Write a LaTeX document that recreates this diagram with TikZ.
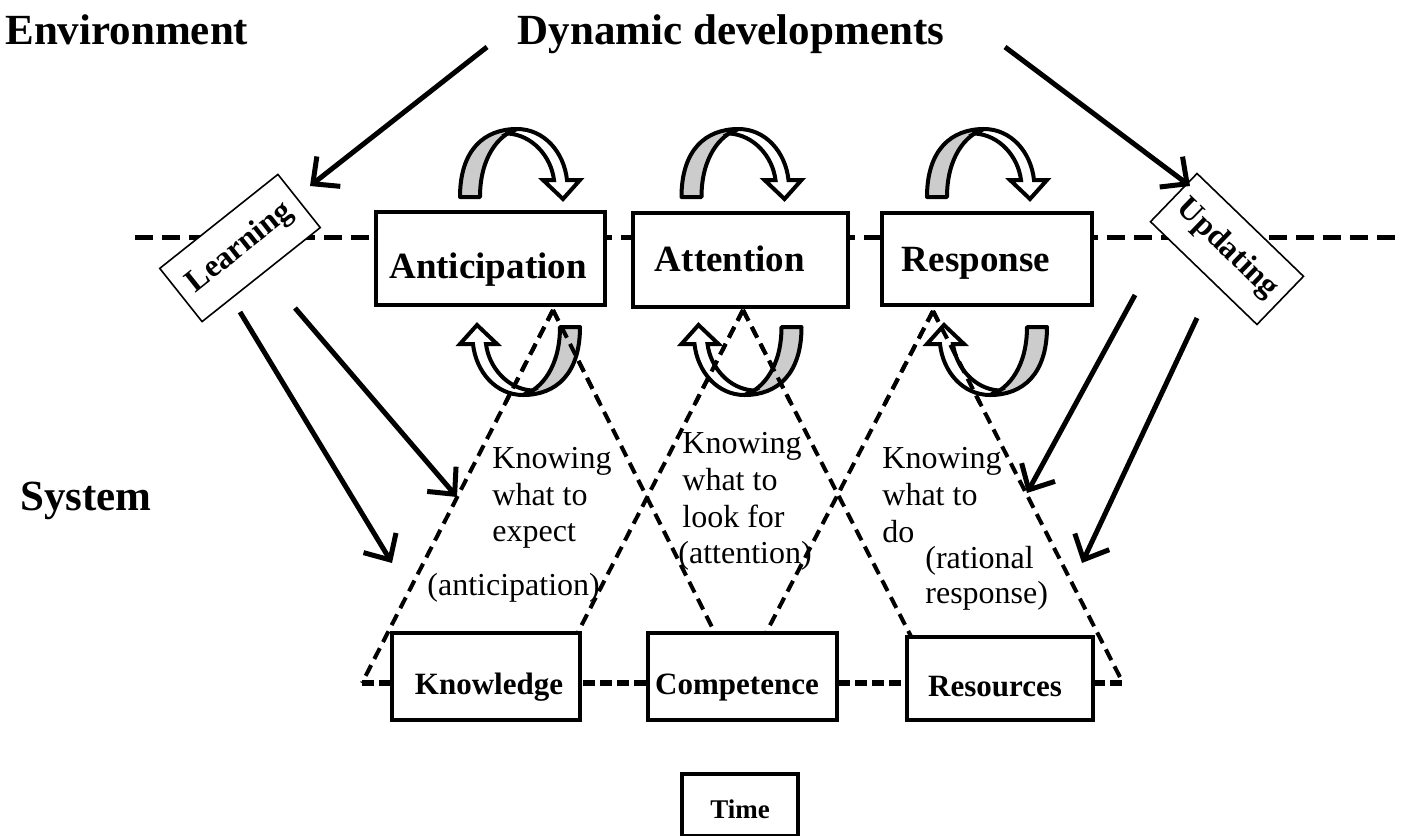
\documentclass[tikz,border=0pt]{standalone}
\usepackage{fontspec}
\setmainfont{Liberation Serif}
\usetikzlibrary{arrows.meta,calc}
\tikzset{
 box/.style={draw, line width=2.4pt, fill=white, inner sep=0pt},
 tbox/.style={draw, line width=0.8pt, fill=white, inner sep=0pt, font=\bfseries\fontsize{16}{18}\selectfont},
 head/.style={font=\bfseries\fontsize{21.5}{24}\selectfont, inner sep=0pt, anchor=base west},
 toplbl/.style={font=\bfseries\fontsize{18.5}{20}\selectfont, inner sep=0pt, anchor=base},
 botlbl/.style={font=\bfseries\fontsize{15.5}{18}\selectfont, inner sep=0pt, anchor=base},
 txt/.style={font=\fontsize{16}{18}\selectfont, inner sep=0pt, anchor=base west},
 arr/.style={line width=2.5pt, -{Straight Barb[length=10pt,width=19pt]}},
 topdash/.style={line width=2.5pt, dash pattern=on 9pt off 4.5pt},
 botdash/.style={line width=2.6pt, dash pattern=on 6pt off 2.5pt},
 tridash/.style={line width=2pt, dash pattern=on 6pt off 3.5pt},
 uturn/.pic={
  \filldraw[fill=black!20, line width=2pt, line join=round]
    (-60,-65) .. controls (-60,-112) and (-36,-133) .. (-3,-133)
    .. controls (-22,-127) and (-40,-104) .. (-40,-65) -- cycle;
  \filldraw[fill=white, line width=2pt, line join=miter]
    (-3,-133) .. controls (24,-133) and (44,-110) .. (47,-82)
    -- (60,-82) -- (43,-63) -- (23,-82) -- (34,-82)
    .. controls (31,-106) and (12,-127) .. (-12,-128.5) -- cycle;
 }
}
\begin{document}
\begin{tikzpicture}[x=0.5pt,y=-0.5pt]
\useasboundingbox (0,0) rectangle (1405,836);

% triangle geometry
\coordinate (ap1) at (553,310);
\coordinate (ap2) at (743,310);
\coordinate (ap3) at (933,311);
\coordinate (bl1) at (362,683);
\coordinate (br1) at (740,683);
\coordinate (bl2) at (552,683);
\coordinate (br2) at (935,683);
\coordinate (bl3) at (740,683);
\coordinate (br3) at (1123,683);
\coordinate (be) at (1125,683);

% dashed lines
\draw[topdash] (135,237) -- (1400,237);
\draw[botdash] (bl1) -- (be);
\foreach \a/\b in {ap1/bl1, ap1/br1, ap2/bl2, ap2/br2, ap3/bl3, ap3/br3}
  \draw[tridash] (\a) -- (\b);

% boxes
\node[box, minimum width=114.5pt, minimum height=46.5pt] (ant) at (490.5,258.5) {};
\node[box, minimum width=107.5pt, minimum height=47pt] (att) at (740.5,260) {};
\node[box, minimum width=105pt, minimum height=46pt] (res) at (987,259) {};
\node[box, minimum width=94pt, minimum height=43.5pt] (kno) at (486,676.5) {};
\node[box, minimum width=94.5pt, minimum height=43.5pt] (com) at (742.5,676.5) {};
\node[box, minimum width=93pt, minimum height=41.5pt] (rsc) at (1000,678.5) {};
\node[box, line width=2pt, minimum width=58pt, minimum height=31pt] (time) at (740,804.5) {};

\node[toplbl] (antl) at (488,278) {Anticipation};
\node[toplbl] (attl) at (730,271) {Attention};
\node[toplbl] (resl) at (976,271) {Response};
\node[botlbl] (knol) at (489,694) {Knowledge};
\node[botlbl] (coml) at (737,694) {Competence};
\node[botlbl] (rscl) at (995,696) {Resources};
\node[botlbl, font=\bfseries\fontsize{13.5}{16}\selectfont] (timel) at (740,818) {Time};

% rotated boxes
\node[tbox, rotate=38.5, minimum width=75.5pt, minimum height=34pt] (learn) at (240,248) {Learning};
\node[tbox, rotate=-44, minimum width=74pt, minimum height=33.5pt] (upd) at (1227,249) {Updating};

% curved arrows
\foreach \cx in {520,741.5,987} {
  \pic at (\cx,262) {uturn};
  \pic[rotate=180] at (\cx,262) {uturn};
}

% redraw upper parts of triangle sides over the curved arrows
\foreach \a/\b in {ap1/bl1, ap1/br1, ap2/bl2, ap2/br2, ap3/bl3, ap3/br3}
  \draw[tridash] (\a) -- ($(\a)!0.25!(\b)$);

% headings
\node[head] (env) at (5,44) {Environment};
\node[head, anchor=base] (dyn) at (731,44) {Dynamic developments};
\node[head] (sys) at (20,510) {System};

% arrows
\coordinate (d1) at (487,47);
\coordinate (d2) at (1005,47);
\coordinate (lin) at (310,186);
\coordinate (uin) at (1190,186);
\coordinate (lo1) at (240,312);
\coordinate (lo2) at (295,308);
\coordinate (uo1) at (1135,295);
\coordinate (uo2) at (1197,318);
\coordinate (t3) at (392,563);
\coordinate (t4) at (457,497);
\coordinate (t5) at (1027,493);
\coordinate (t6) at (1082,563);
\draw[arr] (d1) -- (lin);
\draw[arr] (d2) -- (uin);
\draw[arr] (lo1) -- (t3);
\draw[arr] (lo2) -- (t4);
\draw[arr] (uo1) -- (t5);
\draw[arr] (uo2) -- (t6);

% triangle texts
\node[txt] (k1a) at (492,468) {Knowing};
\node[txt] (k1b) at (492,505) {what to};
\node[txt] (k1c) at (492,541) {expect};
\node[txt] (k1d) at (427,595) {(anticipation)};
\node[txt] (k2a) at (682,453) {Knowing};
\node[txt] (k2b) at (682,490) {what to};
\node[txt] (k2c) at (682,527) {look for};
\node[txt] (k2d) at (678,563) {(attention)};
\node[txt] (k3a) at (882,468) {Knowing};
\node[txt] (k3b) at (882,505) {what to};
\node[txt] (k3c) at (882,542) {do};
\node[txt] (k3d) at (925,568) {(rational};
\node[txt] (k3e) at (925,603) {response)};
\end{tikzpicture}
\end{document}
